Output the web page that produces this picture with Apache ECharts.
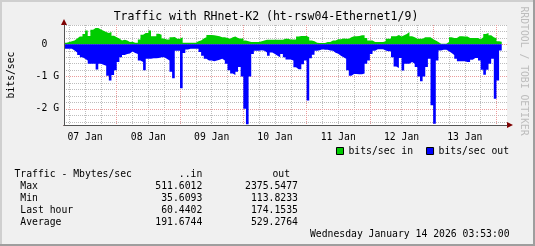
<!DOCTYPE html>
<html><head><meta charset="utf-8">
<script src="https://cdn.jsdelivr.net/npm/echarts@6/dist/echarts.min.js"></script>
<style>html,body{margin:0;padding:0;background:#F0F0F0}#c{width:535px;height:246px}</style>
</head><body><div id="c"></div>
<script>
// ---------------- data ----------------
const chartTitle = 'Traffic with RHnet-K2 (ht-rsw04-Ethernet1/9)';
const yAxisName = 'bits/sec';
const dayLabels = ['07 Jan', '08 Jan', '09 Jan', '10 Jan', '11 Jan', '12 Jan', '13 Jan'];
const seriesNames = ['bits/sec in', 'bits/sec out'];
const firstBinHour = 4;          // hourly bins, hours after 07 Jan 00:00
// bits/sec in, Gbit/s per hour
const inGbps = [
  0.05, 0.07, 0.10, 0.12, 0.18, 0.24, 0.24, 0.32, 0.43, 0.26,
  0.45, 0.51, 0.51, 0.46, 0.42, 0.38, 0.35, 0.38, 0.27, 0.22,
  0.18, 0.12, 0.14, 0.12, 0.07, 0.08, 0.05, 0.05, 0.15, 0.30,
  0.35, 0.35, 0.43, 0.25, 0.25, 0.33, 0.30, 0.18, 0.15, 0.15,
  0.22, 0.23, 0.17, 0.17, 0.22, 0.05, 0.05, 0.05, 0.05, 0.05,
  0.10, 0.12, 0.18, 0.22, 0.29, 0.29, 0.28, 0.27, 0.25, 0.22,
  0.22, 0.20, 0.17, 0.22, 0.24, 0.20, 0.17, 0.19, 0.12, 0.10,
  0.07, 0.07, 0.07, 0.07, 0.10, 0.12, 0.14, 0.14, 0.14, 0.14,
  0.14, 0.14, 0.14, 0.17, 0.17, 0.15, 0.15, 0.15, 0.24, 0.26,
  0.26, 0.26, 0.22, 0.12, 0.10, 0.05, 0.04, 0.04, 0.04, 0.07,
  0.07, 0.12, 0.12, 0.16, 0.16, 0.18, 0.17, 0.17, 0.22, 0.25,
  0.25, 0.26, 0.28, 0.28, 0.20, 0.12, 0.12, 0.07, 0.07, 0.07,
  0.07, 0.10, 0.17, 0.17, 0.25, 0.25, 0.29, 0.24, 0.28, 0.32,
  0.38, 0.25, 0.22, 0.17, 0.17, 0.17, 0.22, 0.22, 0.22, 0.16,
  0.12, 0.07, 0.02, 0.02, 0.02, 0.07, 0.22, 0.20, 0.20, 0.25,
  0.25, 0.24, 0.24, 0.20, 0.20, 0.20, 0.20, 0.16, 0.22, 0.32,
  0.35, 0.28, 0.22, 0.19, 0.10, 0.08
];
// bits/sec out, Gbit/s per hour (drawn below zero)
const outGbps = [
  0.14, 0.14, 0.14, 0.19, 0.25, 0.33, 0.40, 0.45, 0.50, 0.60,
  0.60, 0.60, 0.78, 0.60, 0.63, 0.66, 0.97, 1.12, 0.95, 0.80,
  0.55, 0.40, 0.33, 0.30, 0.28, 0.22, 0.27, 0.30, 0.50, 0.55,
  0.80, 0.45, 0.45, 0.43, 0.43, 0.42, 0.40, 0.40, 0.45, 0.50,
  0.85, 1.05, 0.20, 0.20, 1.36, 0.27, 0.16, 0.14, 0.14, 0.14,
  0.14, 0.24, 0.35, 0.45, 0.50, 0.50, 0.52, 0.50, 0.48, 0.45,
  0.50, 0.60, 0.80, 0.90, 0.95, 0.85, 0.70, 1.00, 2.00, 2.48,
  1.00, 0.30, 0.20, 0.20, 0.18, 0.20, 0.25, 0.35, 0.25, 0.30,
  0.35, 0.40, 0.30, 0.40, 0.47, 0.47, 0.50, 0.71, 0.77, 0.77,
  0.62, 0.50, 1.74, 0.43, 0.32, 0.20, 0.18, 0.15, 0.17, 0.17,
  0.19, 0.20, 0.26, 0.29, 0.35, 0.40, 0.45, 0.80, 0.97, 0.92,
  0.92, 0.93, 0.93, 0.90, 0.60, 0.50, 0.30, 0.20, 0.15, 0.15,
  0.15, 0.19, 0.21, 0.21, 0.40, 0.69, 0.73, 0.42, 0.81, 0.60,
  0.60, 0.55, 0.60, 0.70, 1.00, 1.14, 1.00, 0.70, 0.45, 1.89,
  2.46, 0.50, 0.19, 0.17, 0.17, 0.21, 0.27, 0.33, 0.45, 0.52,
  0.52, 0.52, 0.55, 0.55, 0.48, 0.42, 0.42, 0.50, 0.79, 0.94,
  0.79, 0.60, 0.45, 1.69, 1.12, 0.19
];
const statHeader = ['Traffic - Mbytes/sec', '..in', 'out'];
const statNames = ['Max', 'Min', 'Last hour', 'Average'];
const statIn = [511.6012, 35.6093, 60.4402, 191.6744];
const statOut = [2375.5477, 113.8233, 174.1535, 529.2764];
const footerText = 'Wednesday January 14 2026 03:53:00';
const creditText = 'RRDTOOL / TOBI OETIKER';

// ---------------- chart ----------------
const FONT = 'DejaVu Sans Mono';
const FS = 9.75;
const X_MIN = 4, X_MAX = 172, X_STEP = 2;
const Y_MIN = -2500, Y_MAX = 600, Y_STEP = 100;   // Mbit/s
const T = 'rgba(0,0,0,0)';
const GRAY = '#bdbdbd', RED = '#eb9b9b';

const xGray = [], xRed = [];
for (let t = X_MIN; t <= X_MAX; t += X_STEP) {
  xGray.push(t % 6 === 0 && t % 24 !== 0 ? GRAY : T);
  xRed.push(t % 24 === 0 ? RED : T);
}
const yGray = [], yRed = [];
for (let v = Y_MIN; v <= Y_MAX; v += Y_STEP) {
  yGray.push(v % 200 === 0 && v % 1000 !== 0 ? GRAY : T);
  yRed.push(v % 1000 === 0 ? RED : T);
}

function toPoints(arr, sign) {
  const pts = arr.map((v, k) => [firstBinHour + k, sign * v * 1000]);
  pts.push([firstBinHour + arr.length, sign * arr[arr.length - 1] * 1000]);
  return pts;
}

const gridIdx = 0;
function xAxisBase(extra) {
  return Object.assign({
    type: 'value', min: X_MIN, max: X_MAX, interval: X_STEP, position: 'bottom',
    axisLine: { show: false, onZero: false }, axisTick: { show: false },
    axisLabel: { show: false }, splitLine: { show: false }, gridIndex: gridIdx
  }, extra);
}
function yAxisBase(extra) {
  return Object.assign({
    type: 'value', min: Y_MIN, max: Y_MAX, interval: Y_STEP, position: 'left',
    axisLine: { show: false, onZero: false }, axisTick: { show: false },
    axisLabel: { show: false }, splitLine: { show: false }, gridIndex: gridIdx
  }, extra);
}

const graphics = [];
function txt(x, y, text, align, opts) {
  graphics.push(Object.assign({
    type: 'text', x: x, y: y, silent: true,
    style: Object.assign({ text: text, font: FS + 'px "' + FONT + '"', fill: '#000', align: align, verticalAlign: 'middle' }, (opts && opts.style) || {})
  }, opts && opts.rotation !== undefined ? { rotation: opts.rotation } : {}));
}
txt(266, 17.5, chartTitle, 'center', { style: { font: '11.5px "' + FONT + '"' } });
txt(11, 75, yAxisName, 'center', { rotation: Math.PI / 2 });
txt(523.5, 71, creditText, 'center', { rotation: -Math.PI / 2, style: { fill: '#bdbdbd' } });
txt(14.5, 174, statHeader[0], 'left');
txt(202.3, 174, statHeader[1], 'right');
txt(290, 174, statHeader[2], 'right');
statNames.forEach((n, i) => {
  const y = 186 + i * 12;
  txt(20.3, y, n, 'left');
  txt(202.3, y, statIn[i].toFixed(4), 'right');
  txt(297.9, y, statOut[i].toFixed(4), 'right');
});
txt(509.5, 234, footerText, 'right');
// frame shading
graphics.push({ type: 'rect', shape: { x: 0, y: 0, width: 535, height: 2 }, style: { fill: '#CFCFCF' }, silent: true });
graphics.push({ type: 'rect', shape: { x: 0, y: 0, width: 2, height: 246 }, style: { fill: '#CFCFCF' }, silent: true });
graphics.push({ type: 'rect', shape: { x: 0, y: 244, width: 535, height: 2 }, style: { fill: '#9E9E9E' }, silent: true });
graphics.push({ type: 'rect', shape: { x: 533, y: 0, width: 2, height: 246 }, style: { fill: '#9E9E9E' }, silent: true });

const dayLabelFmt = v => {
  const h = Math.round(v);
  return h % 24 === 12 ? dayLabels[(h - 12) / 24] : '';
};
const yLabelFmt = v => v === 0 ? '0  ' : (v % 1000 === 0 ? (v / 1000) + ' G' : '');

const arrowLine = (color, arrow) => ({
  show: true, onZero: false,
  lineStyle: { color: color, width: 1 },
  symbol: arrow ? ['none', 'triangle'] : ['none', 'none'],
  symbolSize: [6, 6], symbolOffset: [0, 3]
});

const option = {
  animation: false,
  backgroundColor: '#F0F0F0',
  grid: { left: 64, top: 25, width: 443, height: 100, show: true, backgroundColor: '#FFFFFF', borderWidth: 0 },
  xAxis: [
    xAxisBase({ z: 0, axisLabel: { show: true, formatter: dayLabelFmt, fontFamily: FONT, fontSize: FS, color: '#000', margin: 7 },
      splitLine: { show: true, lineStyle: { color: xGray, type: [1, 1], width: 1 } } }),
    xAxisBase({ z: 1, splitLine: { show: true, lineStyle: { color: xRed, type: [1, 1], width: 1 } } }),
    xAxisBase({ z: 3, axisLine: arrowLine('#7F0000', true) }),
    xAxisBase({ z: 4, axisLine: arrowLine('#555555', false) })
  ],
  yAxis: [
    yAxisBase({ z: 0, axisLabel: { show: true, formatter: yLabelFmt, fontFamily: FONT, fontSize: FS, color: '#000', margin: 5 },
      splitLine: { show: true, lineStyle: { color: yGray, type: [1, 1], width: 1 } } }),
    yAxisBase({ z: 1, splitLine: { show: true, lineStyle: { color: yRed, type: [1, 1], width: 1 } } }),
    yAxisBase({ z: 3, axisLine: arrowLine('#7F0000', true) }),
    yAxisBase({ z: 4, axisLine: arrowLine('#555555', false) })
  ],
  legend: {
    right: 21, top: 141, itemWidth: 7, itemHeight: 7, itemGap: 13, icon: 'rect', selectedMode: false,
    textStyle: { fontFamily: FONT, fontSize: FS, color: '#000' },
    data: [
      { name: seriesNames[0], itemStyle: { color: '#00CC00', borderColor: '#000', borderWidth: 1 } },
      { name: seriesNames[1], itemStyle: { color: '#0000FF', borderColor: '#000', borderWidth: 1 } }
    ]
  },
  series: [
    { name: seriesNames[0], type: 'line', step: 'end', data: toPoints(inGbps, 1), symbol: 'none', silent: true,
      xAxisIndex: 0, yAxisIndex: 0, color: '#00CC00', lineStyle: { width: 0 }, areaStyle: { color: '#00CC00', opacity: 1 } },
    { name: seriesNames[1], type: 'line', step: 'end', data: toPoints(outGbps, -1), symbol: 'none', silent: true,
      xAxisIndex: 0, yAxisIndex: 0, color: '#0000FF', lineStyle: { width: 0 }, areaStyle: { color: '#0000FF', opacity: 1 } }
  ],
  graphic: graphics
};

const chart = echarts.init(document.getElementById('c'), null, { renderer: 'canvas' });
chart.setOption(option);
</script>
</body></html>
